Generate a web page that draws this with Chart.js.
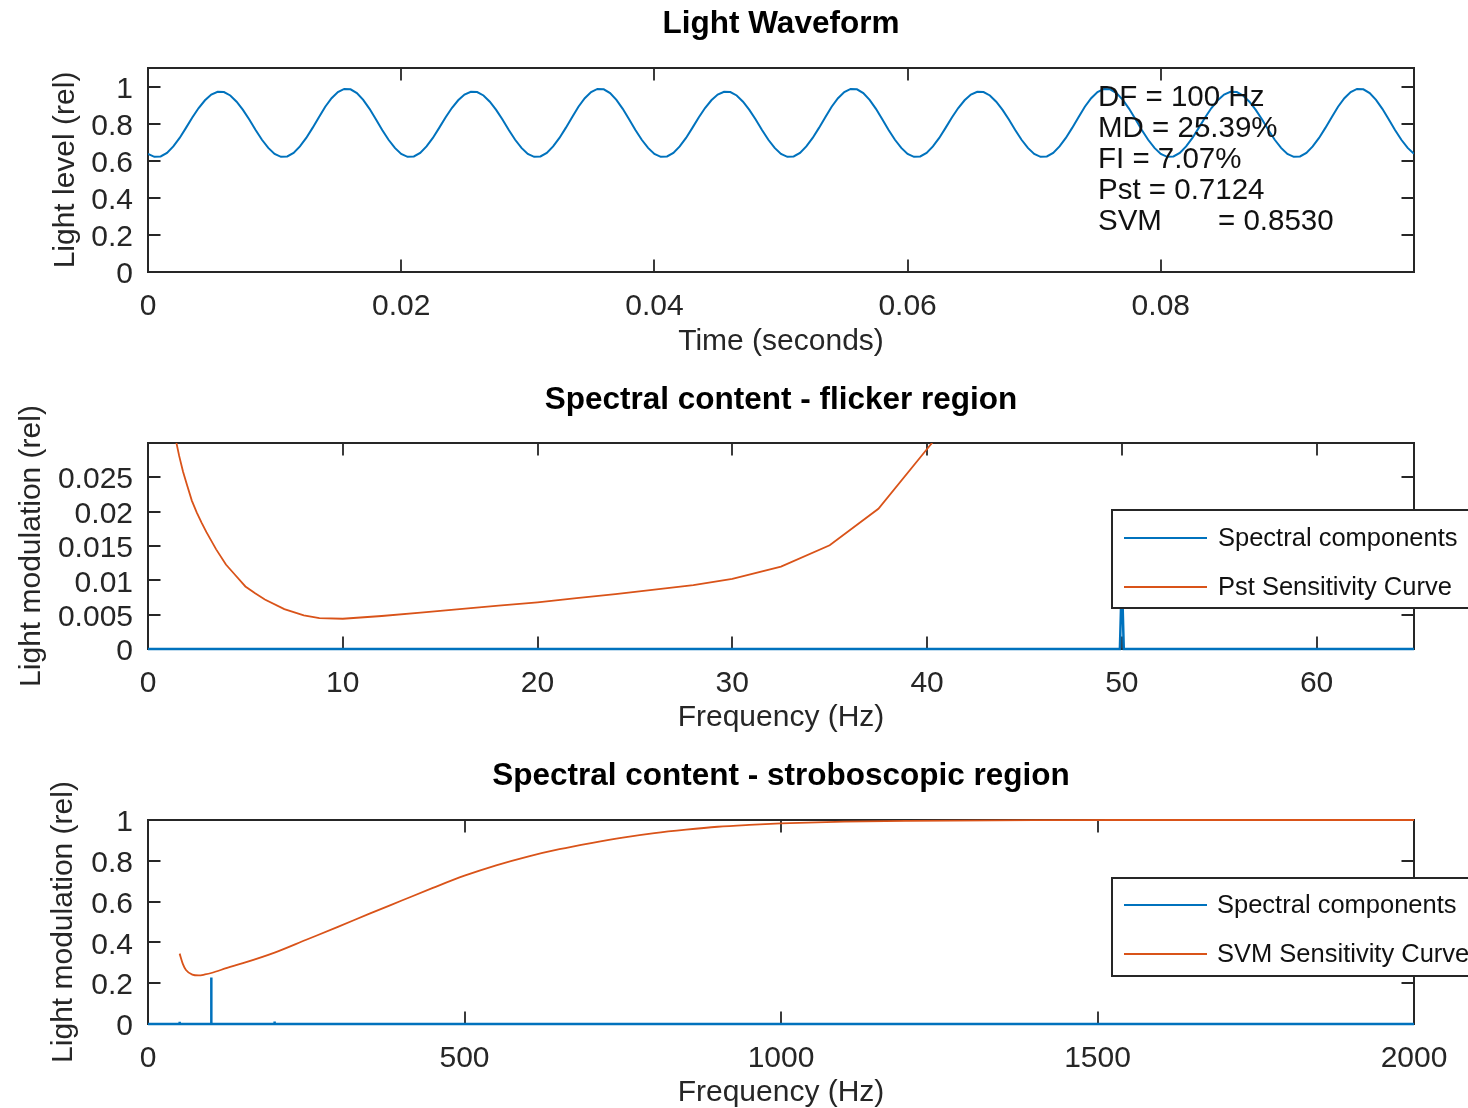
<!DOCTYPE html>
<html>
<head>
<meta charset="utf-8">
<script src="https://cdn.jsdelivr.net/npm/chart.js@4/dist/chart.umd.min.js"></script>
<style>
  html, body { margin: 0; padding: 0; background: #fff; }
  body { width: 1468px; height: 1108px; position: relative; overflow: hidden; }
  canvas { position: absolute; left: 0; }
  #c1 { top: 0; }
  #c2 { top: 370px; }
  #c3 { top: 746px; }
</style>
</head>
<body>
<canvas id="c1" width="1468" height="370"></canvas>
<canvas id="c2" width="1468" height="376"></canvas>
<canvas id="c3" width="1468" height="366"></canvas>
<script>
// ---------------- DATA ----------------
// Light waveform: time (s) and relative light level
const timeSec = [
  0,0.0005,0.001,0.0015,0.002,0.0025,0.003,0.0035,0.004,0.0045,0.005,0.0055,0.006,0.0065,0.007,0.0075,0.008,0.0085,0.009,0.0095,
  0.01,0.0105,0.011,0.0115,0.012,0.0125,0.013,0.0135,0.014,0.0145,0.015,0.0155,0.016,0.0165,0.017,0.0175,0.018,0.0185,0.019,0.0195,
  0.02,0.0205,0.021,0.0215,0.022,0.0225,0.023,0.0235,0.024,0.0245,0.025,0.0255,0.026,0.0265,0.027,0.0275,0.028,0.0285,0.029,0.0295,
  0.03,0.0305,0.031,0.0315,0.032,0.0325,0.033,0.0335,0.034,0.0345,0.035,0.0355,0.036,0.0365,0.037,0.0375,0.038,0.0385,0.039,0.0395,
  0.04,0.0405,0.041,0.0415,0.042,0.0425,0.043,0.0435,0.044,0.0445,0.045,0.0455,0.046,0.0465,0.047,0.0475,0.048,0.0485,0.049,0.0495,
  0.05,0.0505,0.051,0.0515,0.052,0.0525,0.053,0.0535,0.054,0.0545,0.055,0.0555,0.056,0.0565,0.057,0.0575,0.058,0.0585,0.059,0.0595,
  0.06,0.0605,0.061,0.0615,0.062,0.0625,0.063,0.0635,0.064,0.0645,0.065,0.0655,0.066,0.0665,0.067,0.0675,0.068,0.0685,0.069,0.0695,
  0.07,0.0705,0.071,0.0715,0.072,0.0725,0.073,0.0735,0.074,0.0745,0.075,0.0755,0.076,0.0765,0.077,0.0775,0.078,0.0785,0.079,0.0795,
  0.08,0.0805,0.081,0.0815,0.082,0.0825,0.083,0.0835,0.084,0.0845,0.085,0.0855,0.086,0.0865,0.087,0.0875,0.088,0.0885,0.089,0.0895,
  0.09,0.0905,0.091,0.0915,0.092,0.0925,0.093,0.0935,0.094,0.0945,0.095,0.0955,0.096,0.0965,0.097,0.0975,0.098,0.0985,0.099,0.0995,
  0.1
];
const lightLevel = [
  0.637,0.621,0.623,0.642,0.677,0.723,0.777,0.833,0.884,0.926,0.957,0.972,0.970,0.952,0.918,0.874,0.822,0.766,0.713,0.669,
  0.637,0.621,0.623,0.642,0.677,0.723,0.777,0.835,0.891,0.937,0.970,0.987,0.985,0.965,0.928,0.880,0.824,0.766,0.713,0.669,
  0.637,0.621,0.623,0.642,0.677,0.723,0.777,0.833,0.884,0.926,0.957,0.972,0.970,0.952,0.918,0.874,0.822,0.766,0.713,0.669,
  0.637,0.621,0.623,0.642,0.677,0.723,0.777,0.835,0.891,0.937,0.970,0.987,0.985,0.965,0.928,0.880,0.824,0.766,0.713,0.669,
  0.637,0.621,0.623,0.642,0.677,0.723,0.777,0.833,0.884,0.926,0.957,0.972,0.970,0.952,0.918,0.874,0.822,0.766,0.713,0.669,
  0.637,0.621,0.623,0.642,0.677,0.723,0.777,0.835,0.891,0.937,0.970,0.987,0.985,0.965,0.928,0.880,0.824,0.766,0.713,0.669,
  0.637,0.621,0.623,0.642,0.677,0.723,0.777,0.833,0.884,0.926,0.957,0.972,0.970,0.952,0.918,0.874,0.822,0.766,0.713,0.669,
  0.637,0.621,0.623,0.642,0.677,0.723,0.777,0.835,0.891,0.937,0.970,0.987,0.985,0.965,0.928,0.880,0.824,0.766,0.713,0.669,
  0.637,0.621,0.623,0.642,0.677,0.723,0.777,0.833,0.884,0.926,0.957,0.972,0.970,0.952,0.918,0.874,0.822,0.766,0.713,0.669,
  0.637,0.621,0.623,0.642,0.677,0.723,0.777,0.835,0.891,0.937,0.970,0.987,0.985,0.965,0.928,0.880,0.824,0.766,0.713,0.669,
  0.637
];
const metricLines = ['DF = 100 Hz', 'MD = 25.39%', 'FI = 7.07%', 'Pst = 0.7124'];
const svmName = 'SVM';
const svmValueText = '= 0.8530';

// Spectrum (shared by both spectral plots)
const specFreqHz = [0, 49.9, 50, 50.1, 99.9, 100, 100.1, 199.9, 200, 200.1, 2000];
const specMag    = [0, 0, 0.0105, 0, 0, 0.228, 0, 0, 0.012, 0, 0];

// Pst sensitivity curve (flicker region)
const pstFreqHz = [1.4,1.6,1.8,2.0,2.25,2.5,2.75,3.0,3.5,4.0,4.5,5.0,5.5,6.0,7.0,8.0,8.8,10,12,14,16,18,20,22,24,25,28,30,32.5,35,37.5,40,41];
const pstCurve  = [0.0308,0.0281,0.0258,0.0239,0.0216,0.0199,0.0184,0.0170,0.0145,0.0123,0.0107,0.0091,0.0081,0.0072,0.0058,0.0049,0.0045,0.0044,0.0048,0.0053,0.0058,0.0063,0.0068,0.0074,0.0080,0.0083,0.0093,0.0102,0.0120,0.0151,0.0204,0.0291,0.0326];

// SVM sensitivity curve (stroboscopic region)
const svmFreqHz = [50,55,60,70,80,90,100,125,150,200,250,300,350,400,450,500,550,600,650,700,750,800,850,900,950,1000,1100,1200,1400,1600,2000];
const svmCurve  = [0.345,0.295,0.265,0.242,0.238,0.243,0.250,0.275,0.298,0.350,0.413,0.476,0.541,0.604,0.667,0.727,0.778,0.821,0.857,0.887,0.914,0.936,0.953,0.967,0.976,0.983,0.992,0.996,0.9992,1.0,1.0];

// Tick labels
const waveXTicks = [0, 0.02, 0.04, 0.06, 0.08];
const waveYTicks = [0, 0.2, 0.4, 0.6, 0.8, 1];
const flickXTicks = [0, 10, 20, 30, 40, 50, 60];
const flickYTicks = [0, 0.005, 0.01, 0.015, 0.02, 0.025];
const strobeXTicks = [0, 500, 1000, 1500, 2000];
const strobeYTicks = [0, 0.2, 0.4, 0.6, 0.8, 1];

// ---------------- STYLE / HELPERS ----------------
const FONT = "'Liberation Sans', Arial, Helvetica, sans-serif";
const BLUE = '#0072BD';
const ORANGE = '#D95319';
const AXC = '#262626';

const pts = (xs, ys) => xs.map((x, i) => ({ x, y: ys[i] }));

const matlabPlugin = {
  id: 'matlab',
  beforeDatasetsDraw(chart) {
    const { ctx, chartArea: a, scales: { x, y } } = chart;
    const L = 12.5;
    ctx.save();
    ctx.strokeStyle = AXC;
    ctx.lineWidth = 1.8;
    ctx.beginPath();
    x.ticks.forEach(t => {
      const px = Math.round(x.getPixelForValue(t.value));
      ctx.moveTo(px, a.bottom); ctx.lineTo(px, a.bottom - L);
      ctx.moveTo(px, a.top); ctx.lineTo(px, a.top + L);
    });
    y.ticks.forEach(t => {
      const py = Math.round(y.getPixelForValue(t.value));
      ctx.moveTo(a.left, py); ctx.lineTo(a.left + L, py);
      ctx.moveTo(a.right, py); ctx.lineTo(a.right - L, py);
    });
    ctx.stroke();
    ctx.lineWidth = 2;
    ctx.strokeRect(a.left, a.top, a.right - a.left, a.bottom - a.top);
    ctx.restore();
  },
  afterDraw(chart, args, o) {
    const { ctx, chartArea: a } = chart;
    ctx.save();
    if (o.title) {
      ctx.fillStyle = '#000';
      ctx.font = 'bold 31.5px ' + FONT;
      ctx.textAlign = 'center';
      ctx.textBaseline = 'middle';
      ctx.fillText(o.title, (a.left + a.right) / 2, o.titleY);
    }
    if (o.notes) {
      ctx.fillStyle = '#111';
      ctx.font = '29.5px ' + FONT;
      ctx.textAlign = 'left';
      ctx.textBaseline = 'middle';
      o.notes.forEach((s, i) => ctx.fillText(s, o.noteX, o.noteY + i * o.noteDy));
      const yy = o.noteY + o.notes.length * o.noteDy;
      ctx.fillText(svmName, o.noteX, yy);
      ctx.fillText(svmValueText, o.noteX2, yy);
    }
    if (o.legend) {
      const g = o.legend;
      ctx.fillStyle = '#fff';
      ctx.fillRect(g.x, g.y, g.w, g.h);
      ctx.strokeStyle = AXC;
      ctx.lineWidth = 2;
      ctx.strokeRect(g.x, g.y, g.w, g.h);
      ctx.font = '25.5px ' + FONT;
      ctx.textAlign = 'left';
      ctx.textBaseline = 'middle';
      chart.data.datasets.forEach((ds, i) => {
        const ry = g.y + g.row0 + i * g.dy;
        ctx.strokeStyle = ds.borderColor;
        ctx.lineWidth = 1.8;
        ctx.beginPath();
        ctx.moveTo(g.x + 12, ry); ctx.lineTo(g.x + 95, ry);
        ctx.stroke();
        ctx.fillStyle = '#111';
        ctx.fillText(ds.label, g.x + g.textDx, ry + 1);
      });
    }
    ctx.restore();
  }
};

function axisCfg(min, max, ticks, title, isX, size) {
  return {
    type: 'linear',
    min, max,
    afterBuildTicks: (ax) => { ax.ticks = ticks.map(v => ({ value: v })); },
    afterFit: (ax) => { if (isX) ax.height = size; else ax.width = size; },
    grid: { display: false, drawTicks: false },
    border: { display: false },
    ticks: {
      autoSkip: false, maxRotation: 0, minRotation: 0,
      padding: isX ? 17 : 15,
      labelOffset: isX ? 0 : 3,
      color: AXC,
      font: { family: FONT, size: 30 },
      callback: (v) => String(v)
    },
    title: {
      display: true, text: title, color: AXC,
      font: { family: FONT, size: 30 },
      padding: { top: 0, bottom: 0 }
    }
  };
}

function baseOptions(pad, xs, ys, pluginOpts) {
  return {
    responsive: false,
    animation: false,
    events: [],
    layout: { padding: pad },
    plugins: { legend: { display: false }, tooltip: { enabled: false }, title: { display: false }, matlab: pluginOpts },
    elements: { point: { radius: 0 }, line: { tension: 0 } },
    scales: { x: xs, y: ys }
  };
}

// ---------------- CHART 1: waveform ----------------
new Chart(document.getElementById('c1'), {
  type: 'line',
  data: { datasets: [{ label: 'Light level', data: pts(timeSec, lightLevel), borderColor: BLUE, borderWidth: 2, fill: false }] },
  options: baseOptions(
    { left: 48, right: 54, top: 68, bottom: 10 },
    axisCfg(0, 0.1, waveXTicks, 'Time (seconds)', true, 88),
    axisCfg(0, 1.1, waveYTicks, 'Light level (rel)', false, 100),
    { title: 'Light Waveform', titleY: 24, notes: metricLines, noteX: 1098, noteX2: 1218, noteY: 98, noteDy: 31 }
  ),
  plugins: [matlabPlugin]
});

// ---------------- CHART 2: flicker region ----------------
new Chart(document.getElementById('c2'), {
  type: 'line',
  data: { datasets: [
    { label: 'Spectral components', data: pts(specFreqHz, specMag), borderColor: BLUE, borderWidth: 2.5, fill: false, clip: { left: 0, right: 0, top: 0, bottom: 3 } },
    { label: 'Pst Sensitivity Curve', data: pts(pstFreqHz, pstCurve), borderColor: ORANGE, borderWidth: 1.8, fill: false, clip: { left: 0, right: 0, top: 0, bottom: 3 } }
  ] },
  options: baseOptions(
    { left: 14, right: 54, top: 73, bottom: 10 },
    axisCfg(0, 65, flickXTicks, 'Frequency (Hz)', true, 87),
    axisCfg(0, 0.02998, flickYTicks, 'Light modulation (rel)', false, 134),
    { title: 'Spectral content - flicker region', titleY: 30,
      legend: { x: 1112, y: 140, w: 400, h: 98, row0: 28, dy: 49, textDx: 106 } }
  ),
  plugins: [matlabPlugin]
});

// ---------------- CHART 3: stroboscopic region ----------------
new Chart(document.getElementById('c3'), {
  type: 'line',
  data: { datasets: [
    { label: 'Spectral components', data: pts(specFreqHz, specMag), borderColor: BLUE, borderWidth: 2.5, fill: false, clip: { left: 0, right: 0, top: 2, bottom: 3 } },
    { label: 'SVM Sensitivity Curve', data: pts(svmFreqHz, svmCurve), borderColor: ORANGE, borderWidth: 1.8, fill: false, cubicInterpolationMode: 'monotone', clip: { left: 0, right: 0, top: 2, bottom: 3 } }
  ] },
  options: baseOptions(
    { left: 46, right: 54, top: 74, bottom: 1 },
    axisCfg(0, 2000, strobeXTicks, 'Frequency (Hz)', true, 87),
    axisCfg(0, 1, strobeYTicks, 'Light modulation (rel)', false, 102),
    { title: 'Spectral content - stroboscopic region', titleY: 30,
      legend: { x: 1112, y: 132, w: 400, h: 98, row0: 27, dy: 49, textDx: 105 } }
  ),
  plugins: [matlabPlugin]
});
</script>
</body>
</html>
